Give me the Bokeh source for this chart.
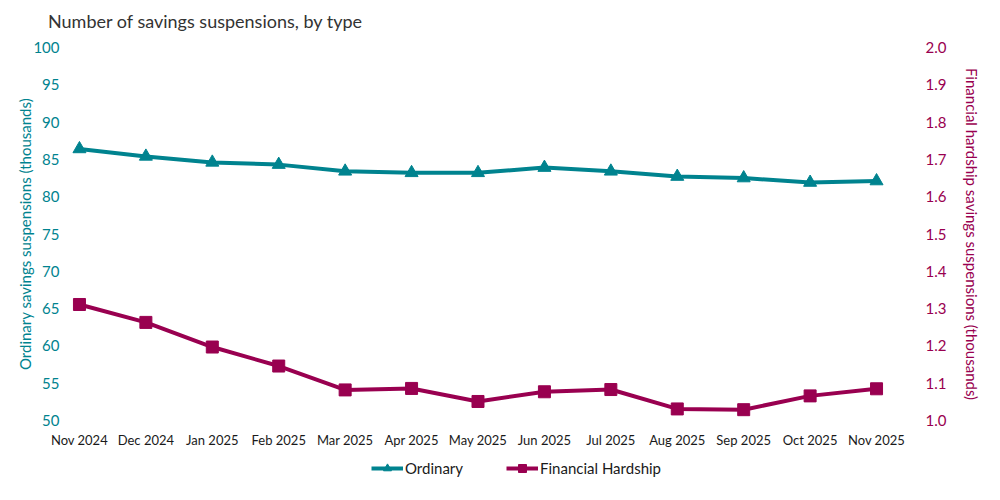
from bokeh.plotting import figure
from bokeh.layouts import column
from bokeh.models import (Range1d, LinearAxis, Legend, LegendItem, FixedTicker, ColumnDataSource,
                          CustomJSTickFormatter, Div)
from bokeh.embed import file_html
from bokeh.resources import INLINE

months = ["Nov 2024", "Dec 2024", "Jan 2025", "Feb 2025", "Mar 2025", "Apr 2025", "May 2025",
          "Jun 2025", "Jul 2025", "Aug 2025", "Sep 2025", "Oct 2025", "Nov 2025"]
ordinary = [86.4, 85.4, 84.6, 84.3, 83.4, 83.2, 83.2, 83.9, 83.4, 82.7, 82.5, 81.9, 82.1]
hardship = [1.311, 1.263, 1.197, 1.146, 1.082, 1.086, 1.051, 1.077, 1.083, 1.031, 1.029, 1.066, 1.085]
left_ticks = [50, 55, 60, 65, 70, 75, 80, 85, 90, 95, 100]
right_ticks = [1.0, 1.1, 1.2, 1.3, 1.4, 1.5, 1.6, 1.7, 1.8, 1.9, 2.0]
title_text = "Number of savings suspensions, by type"

TEAL = "#00838F"
MAROON = "#990050"
FONT = "Lato"

idx = list(range(len(months)))
src = ColumnDataSource(dict(x=idx, ordinary=ordinary, hardship=hardship))

title = Div(text=title_text, width=984, height=29,
            styles={"font-family": FONT, "font-size": "18px", "color": "#333333",
                    "padding-left": "43px", "padding-top": "5px", "line-height": "22px",
                    "box-sizing": "border-box", "white-space": "nowrap"})

p = figure(width=984, height=411, output_backend="svg", toolbar_location=None,
           x_range=Range1d(-0.135, 12.406), y_range=Range1d(50, 100),
           min_border_left=70, min_border_right=80, min_border_top=8, min_border_bottom=30)
p.extra_y_ranges = {"hard": Range1d(1.0, 2.0)}
p.outline_line_color = None
p.grid.grid_line_color = None

# x axis
xa = p.xaxis[0]
xa.ticker = FixedTicker(ticks=idx)
xa.major_label_overrides = {i: m for i, m in enumerate(months)}
xa.axis_line_color = None
xa.major_tick_line_color = None
xa.minor_tick_line_color = None
xa.major_label_text_font = FONT
xa.major_label_text_font_size = "13px"
xa.major_label_text_color = "#1a1a1a"
xa.major_label_standoff = 5

# left axis
ya = p.yaxis[0]
ya.ticker = FixedTicker(ticks=left_ticks)
ya.axis_line_color = None
ya.major_tick_line_color = None
ya.minor_tick_line_color = None
ya.major_label_text_font = FONT
ya.major_label_text_font_size = "15px"
ya.major_label_text_color = TEAL
ya.major_label_standoff = 5
ya.axis_label = "Ordinary savings suspensions (thousands)"
ya.axis_label_text_font = FONT
ya.axis_label_text_font_size = "15px"
ya.axis_label_text_font_style = "normal"
ya.axis_label_text_color = TEAL
ya.axis_label_standoff = -4

ra = LinearAxis(y_range_name="hard", ticker=FixedTicker(ticks=right_ticks))
ra.axis_line_color = None
ra.major_tick_line_color = None
ra.minor_tick_line_color = None
ra.major_label_text_font = FONT
ra.major_label_text_font_size = "15px"
ra.major_label_text_color = MAROON
ra.major_label_standoff = 16
ra.formatter = CustomJSTickFormatter(code="return tick.toFixed(1);")
ra.axis_label = "Financial hardship savings suspensions (thousands)"
ra.axis_label_text_font = FONT
ra.axis_label_text_font_size = "15px"
ra.axis_label_text_font_style = "normal"
ra.axis_label_text_color = MAROON
ra.axis_label_standoff = 14
p.add_layout(ra, "right")

p.line("x", "ordinary", source=src, line_color=TEAL, line_width=4)
p.scatter("x", "ordinary", source=src, marker="triangle", size=13, fill_color=TEAL, line_color=TEAL)
p.line("x", "hardship", source=src, y_range_name="hard", line_color=MAROON, line_width=4)
p.scatter("x", "hardship", source=src, y_range_name="hard", marker="square", size=12,
          fill_color=MAROON, line_color=MAROON)

# legend strip below the chart (its own glyphs fall outside its visible range)
lf = figure(width=984, height=34, output_backend="svg", toolbar_location=None,
            x_range=Range1d(-0.135, 12.406), y_range=Range1d(-20, -10),
            min_border=0, x_axis_location=None, y_axis_location=None)
lf.outline_line_color = None
lf.grid.grid_line_color = None
g1 = lf.line("x", "ordinary", source=src, line_color=TEAL, line_width=4)
s1 = lf.scatter("x", "ordinary", source=src, marker="triangle", size=13, fill_color=TEAL, line_color=TEAL)
g2 = lf.line("x", "hardship", source=src, line_color=MAROON, line_width=4)
s2 = lf.scatter("x", "hardship", source=src, marker="square", size=12, fill_color=MAROON, line_color=MAROON)

legend = Legend(items=[LegendItem(label="Ordinary", renderers=[g1, s1]),
                       LegendItem(label="Financial Hardship", renderers=[g2, s2])],
                orientation="horizontal", location=(301, 6))
legend.label_text_font = FONT
legend.label_text_font_size = "15px"
legend.label_text_color = "#1a1a1a"
legend.glyph_width = 32
legend.label_standoff = 2
legend.spacing = 43
legend.border_line_color = None
legend.background_fill_alpha = 0
legend.margin = 0
legend.padding = 2
lf.add_layout(legend)

layout = column(title, p, lf, spacing=0)
open("out.html", "w").write(file_html(layout, INLINE))
